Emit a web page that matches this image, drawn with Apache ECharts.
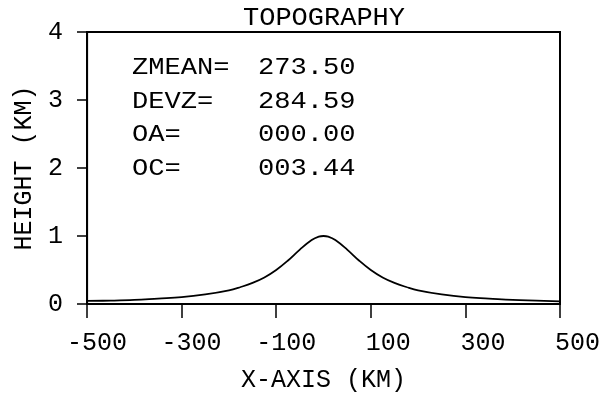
<!DOCTYPE html>
<html>
<head>
<meta charset="utf-8">
<script src="https://cdn.jsdelivr.net/npm/echarts@6/dist/echarts.min.js"></script>
<style>
  html, body { margin: 0; padding: 0; background: #fff; }
  #chart { width: 605px; height: 401px; }
</style>
</head>
<body>
<div id="chart"></div>
<script>
// Terrain profile: bell-shaped ridge across the domain
const distanceKm = [-500, -450, -400, -350, -300, -250, -200, -175, -150, -125, -100, -75, -50, -25, -10, 0,
                    10, 25, 50, 75, 100, 125, 150, 175, 200, 250, 300, 350, 400, 450, 500];
const heightKm   = [0.045, 0.05, 0.06, 0.08, 0.10, 0.14, 0.20, 0.25, 0.31, 0.39, 0.50, 0.64, 0.80, 0.94, 0.99, 1.00,
                    0.99, 0.94, 0.80, 0.64, 0.50, 0.39, 0.31, 0.25, 0.20, 0.14, 0.10, 0.08, 0.06, 0.05, 0.04];

// Tick positions on the horizontal axis
const xTicks = [-500, -300, -100, 100, 300, 500];

// Statistics printed inside the frame
const statNames  = ['ZMEAN=', 'DEVZ=', 'OA=', 'OC='];
const statValues = ['273.50', '284.59', '000.00', '003.44'];

const FONT = '"Liberation Mono", "DejaVu Sans Mono", monospace';
const INK = '#000';

const chart = echarts.init(document.getElementById('chart'), null, { renderer: 'canvas' });

const profile = distanceKm.map((d, i) => [d, heightKm[i]]);

const statText = [];
statNames.forEach((name, i) => {
  const y = 67.5 + i * 33.7;
  statText.push({
    type: 'text', x: 132, y: y, scaleX: 1.13,
    style: { text: name, font: '24px ' + FONT, fill: INK, textAlign: 'left', textVerticalAlign: 'middle' }
  });
  statText.push({
    type: 'text', x: 258, y: y, scaleX: 1.13,
    style: { text: statValues[i], font: '24px ' + FONT, fill: INK, textAlign: 'left', textVerticalAlign: 'middle' }
  });
});

chart.setOption({
  backgroundColor: '#fff',
  animation: false,
  grid: {
    left: 87, right: 45, top: 32, bottom: 97,
    show: true, borderColor: INK, borderWidth: 2,
    outerBoundsMode: 'none'
  },
  xAxis: {
    type: 'value',
    min: xTicks[0], max: xTicks[xTicks.length - 1],
    interval: xTicks[1] - xTicks[0],
    name: 'X-AXIS (KM)',
    nameLocation: 'middle',
    nameGap: 76,
    nameTextStyle: { fontFamily: FONT, fontSize: 25, color: INK, verticalAlign: 'middle' },
    axisLine: { show: true, onZero: false, lineStyle: { color: INK, width: 1.5 } },
    axisTick: { show: true, inside: false, length: 14, lineStyle: { color: INK, width: 1.5 } },
    axisLabel: {
      margin: 27,
      color: INK,
      fontFamily: FONT,
      fontSize: 25,
      formatter: v => '{r|' + v + '}',
      rich: { r: { width: 80, align: 'right', fontFamily: FONT, fontSize: 25, color: INK } }
    },
    splitLine: { show: false }
  },
  yAxis: {
    type: 'value',
    min: 0, max: 4, interval: 1,
    name: 'HEIGHT (KM)',
    nameLocation: 'middle',
    nameGap: 59,
    nameRotate: 90,
    nameTextStyle: { fontFamily: FONT, fontSize: 25, color: INK, verticalAlign: 'middle' },
    axisLine: { show: true, onZero: false, lineStyle: { color: INK, width: 1.2 } },
    axisTick: { show: true, inside: false, length: 10, lineStyle: { color: INK, width: 1.5 } },
    axisLabel: { margin: 24, color: INK, fontFamily: FONT, fontSize: 25 },
    splitLine: { show: false }
  },
  graphic: [
    {
      type: 'text', x: 324, y: 18.5, scaleX: 1.08,
      style: { text: 'TOPOGRAPHY', font: '25px ' + FONT, fill: INK, textAlign: 'center', textVerticalAlign: 'middle' }
    }
  ].concat(statText),
  series: [{
    type: 'line',
    data: profile,
    smooth: 0.4,
    showSymbol: false,
    lineStyle: { color: INK, width: 1.8 },
    z: 3
  }]
});
</script>
</body>
</html>
